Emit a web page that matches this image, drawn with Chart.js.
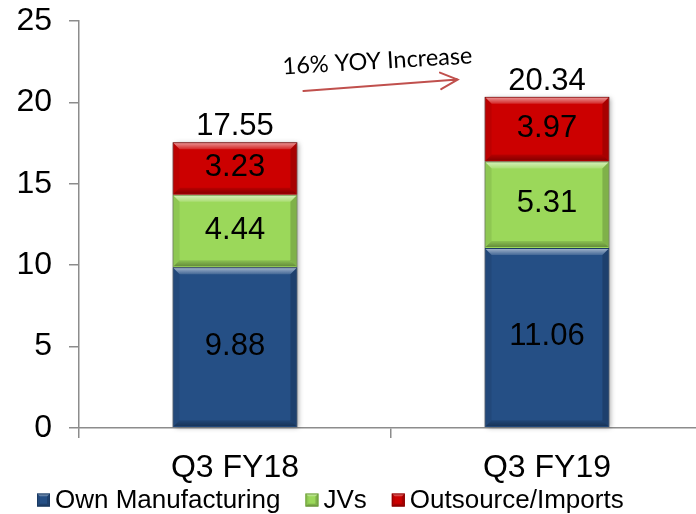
<!DOCTYPE html>
<html>
<head>
<meta charset="utf-8">
<script src="https://cdn.jsdelivr.net/npm/chart.js@4.4.0/dist/chart.umd.min.js"></script>
<style>
  html, body { margin: 0; padding: 0; background: #fff; overflow: hidden; }
  #wrap { width: 696px; height: 514px; overflow: hidden; }
  canvas { display: block; }
</style>
</head>
<body>
<div id="wrap"><canvas id="chart" width="704" height="514"></canvas></div>
<script>
// Chart data
const categories = ['Q3 FY18', 'Q3 FY19'];
const ownManufacturing = [9.88, 11.06];
const jvs = [4.44, 5.31];
const outsourceImports = [3.23, 3.97];
const totals = [17.55, 20.34];
const seriesNames = ['Own Manufacturing', 'JVs', 'Outsource/Imports'];
const yMin = 0, yMax = 25, yStep = 5;
const yoyLabel = '16% YOY Increase';

const FONT = '"Liberation Sans", Arial, sans-serif';
const fills = ['#254F85', '#9BD85A', '#CC0000'];
const edges = ['#1A3A63', '#6E9C3E', '#8A0000'];

// soft shadow behind each stack
const shadowPlugin = {
  id: 'shadow',
  beforeDatasetsDraw(chart) {
    const ctx = chart.ctx;
    const last = chart.getDatasetMeta(chart.data.datasets.length - 1);
    const first = chart.getDatasetMeta(0);
    ctx.save();
    ctx.shadowColor = 'rgba(0,0,0,0.35)';
    ctx.shadowBlur = 5;
    ctx.shadowOffsetX = 2;
    ctx.shadowOffsetY = 1;
    ctx.fillStyle = '#888';
    last.data.forEach((bar, j) => {
      const base = first.data[j].base;
      ctx.fillRect(bar.x - bar.width / 2, bar.y, bar.width, base - bar.y);
    });
    ctx.restore();
  }
};

// bevel look drawn over each segment
function bevel(ctx, l, t, r, b, e) {
  let g = ctx.createLinearGradient(0, t, 0, t + e);
  g.addColorStop(0, 'rgba(255,255,255,0.55)');
  g.addColorStop(1, 'rgba(255,255,255,0.15)');
  ctx.fillStyle = g;
  ctx.beginPath();
  ctx.moveTo(l, t); ctx.lineTo(r, t); ctx.lineTo(r - e, t + e); ctx.lineTo(l + e, t + e);
  ctx.closePath(); ctx.fill();

  g = ctx.createLinearGradient(0, b - e, 0, b);
  g.addColorStop(0, 'rgba(0,0,0,0.1)');
  g.addColorStop(1, 'rgba(0,0,0,0.35)');
  ctx.fillStyle = g;
  ctx.beginPath();
  ctx.moveTo(l, b); ctx.lineTo(r, b); ctx.lineTo(r - e, b - e); ctx.lineTo(l + e, b - e);
  ctx.closePath(); ctx.fill();

  ctx.fillStyle = 'rgba(0,0,0,0.08)';
  ctx.beginPath();
  ctx.moveTo(l, t); ctx.lineTo(l + e, t + e); ctx.lineTo(l + e, b - e); ctx.lineTo(l, b);
  ctx.closePath(); ctx.fill();
  ctx.fillStyle = 'rgba(0,0,0,0.18)';
  ctx.beginPath();
  ctx.moveTo(r, t); ctx.lineTo(r - e, t + e); ctx.lineTo(r - e, b - e); ctx.lineTo(r, b);
  ctx.closePath(); ctx.fill();
}

const bevelPlugin = {
  id: 'bevel',
  afterDatasetsDraw(chart) {
    const ctx = chart.ctx;
    ctx.save();
    chart.data.datasets.forEach((ds, i) => {
      chart.getDatasetMeta(i).data.forEach(bar => {
        const l = bar.x - bar.width / 2, r = bar.x + bar.width / 2;
        const t = Math.min(bar.y, bar.base), b = Math.max(bar.y, bar.base);
        bevel(ctx, l + 1, t + 1, r - 1, b - 1, 6);
      });
    });
    ctx.restore();
  }
};

// value labels inside segments and totals on top
const labelPlugin = {
  id: 'labels',
  afterDatasetsDraw(chart) {
    const ctx = chart.ctx;
    ctx.save();
    ctx.fillStyle = '#000';
    ctx.textAlign = 'center';
    ctx.font = '31px ' + FONT;
    ctx.textBaseline = 'middle';
    chart.data.datasets.forEach((ds, i) => {
      chart.getDatasetMeta(i).data.forEach((bar, j) => {
        ctx.fillText(ds.data[j].toFixed(2), bar.x, (bar.y + bar.base) / 2 - 1);
      });
    });
    ctx.textBaseline = 'alphabetic';
    const top = chart.getDatasetMeta(chart.data.datasets.length - 1);
    top.data.forEach((bar, j) => {
      ctx.fillText(totals[j].toFixed(2), bar.x, bar.y - 7);
    });
    ctx.restore();
  }
};

// YOY arrow annotation between the two stacks
const arrowPlugin = {
  id: 'arrow',
  afterDraw(chart) {
    const ctx = chart.ctx;
    const y = chart.scales.y;
    const bars = chart.getDatasetMeta(chart.data.datasets.length - 1).data;
    const x0 = bars[0].x + bars[0].width / 2 + 6, y0 = y.getPixelForValue(20.7);
    const x1 = bars[1].x - bars[1].width / 2 - 27, y1 = y.getPixelForValue(21.4);
    const ang = Math.atan2(y1 - y0, x1 - x0);
    ctx.save();
    ctx.strokeStyle = '#C0504D';
    ctx.lineWidth = 2;
    ctx.lineCap = 'round';
    ctx.beginPath();
    ctx.moveTo(x0, y0); ctx.lineTo(x1, y1);
    const len = 19, spread = 0.45;
    ctx.moveTo(x1 - len * Math.cos(ang - spread), y1 - len * Math.sin(ang - spread));
    ctx.lineTo(x1, y1);
    ctx.lineTo(x1 - len * Math.cos(ang + spread), y1 - len * Math.sin(ang + spread));
    ctx.stroke();

    ctx.translate((x0 + x1) / 2 - 3, (y0 + y1) / 2 - 24);
    ctx.rotate(-0.058);
    ctx.fillStyle = '#000';
    ctx.font = '23.5px Lato, "Open Sans", sans-serif';
    ctx.textAlign = 'center';
    ctx.textBaseline = 'middle';
    ctx.fillText(yoyLabel, 0, 0);
    ctx.restore();
  }
};

// legend row under the axis
const legendPlugin = {
  id: 'bottomLegend',
  afterDraw(chart) {
    const ctx = chart.ctx;
    ctx.save();
    ctx.font = '26px ' + FONT;
    ctx.textBaseline = 'middle';
    ctx.textAlign = 'left';
    let x = chart.chartArea.left - 42;
    const cy = 500, box = 13;
    chart.data.datasets.forEach((ds, i) => {
      ctx.fillStyle = ds.backgroundColor;
      ctx.fillRect(x, cy - box / 2, box, box);
      bevel(ctx, x, cy - box / 2, x + box, cy + box / 2, 3);
      ctx.strokeStyle = ds.borderColor;
      ctx.lineWidth = 1;
      ctx.strokeRect(x + 0.5, cy - box / 2 + 0.5, box - 1, box - 1);
      ctx.fillStyle = '#000';
      ctx.fillText(ds.label, x + box + 5, cy + 1);
      x += box + 5 + ctx.measureText(ds.label).width + 25;
    });
    ctx.restore();
  }
};

const seriesData = [ownManufacturing, jvs, outsourceImports];

new Chart(document.getElementById('chart'), {
  type: 'bar',
  data: {
    labels: categories,
    datasets: seriesNames.map((name, i) => ({
      label: name,
      data: seriesData[i],
      backgroundColor: fills[i],
      borderColor: edges[i],
      borderWidth: 1,
      barPercentage: 0.4,
      categoryPercentage: 1
    }))
  },
  options: {
    responsive: false,
    animation: false,
    layout: { padding: { top: 21, right: 1, bottom: 29, left: 0 } },
    plugins: {
      legend: { display: false },
      tooltip: { enabled: false }
    },
    scales: {
      x: {
        stacked: true,
        grid: { drawOnChartArea: false, drawTicks: true, tickLength: 10, color: '#8C8C8C', lineWidth: 1.5 },
        border: { color: '#8C8C8C', width: 1.5 },
        ticks: { color: '#000', font: { family: FONT, size: 32 }, padding: 11 },
        afterFit(scale) { scale.height = 57; }
      },
      y: {
        stacked: true,
        min: yMin,
        max: yMax,
        grid: { drawOnChartArea: false, drawTicks: true, tickLength: 10, color: '#8C8C8C', lineWidth: 1.5 },
        border: { color: '#8C8C8C', width: 1.5 },
        ticks: { stepSize: yStep, color: '#000', font: { family: FONT, size: 32 }, padding: 17 },
        afterFit(scale) {
          scale.width = 79;
          // let the top label overhang into the layout padding
          scale.paddingTop = 0;
          scale.paddingBottom = 0;
        }
      }
    }
  },
  plugins: [shadowPlugin, bevelPlugin, labelPlugin, arrowPlugin, legendPlugin]
});
</script>
</body>
</html>
